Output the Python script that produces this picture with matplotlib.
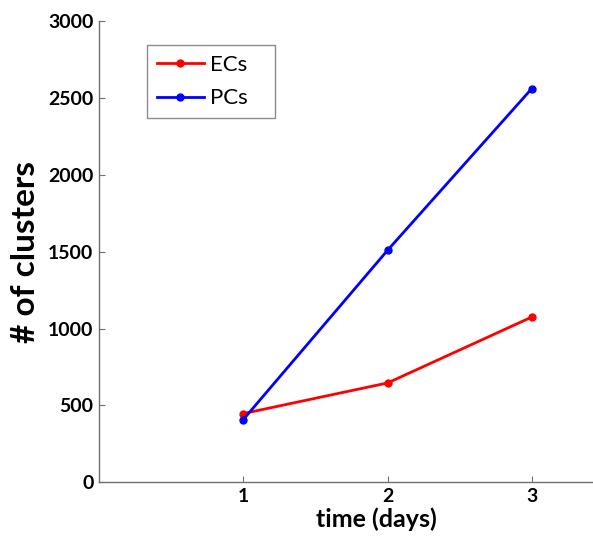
import matplotlib
matplotlib.use('Agg')
import matplotlib.pyplot as plt

# data
days = [1, 2, 3]
ecs = [447, 646, 1075]
pcs = [408, 1509, 2561]
y_ticks = [0, 500, 1000, 1500, 2000, 2500, 3000]
x_ticks = [1, 2, 3]

plt.rcParams['font.family'] = ['Lato', 'DejaVu Sans']
axis_gray = '#707070'

fig = plt.figure(figsize=(5.93, 5.37), dpi=100)
ax = fig.add_axes([99 / 593, 54.7 / 537, 505 / 593, 461.3 / 537])

ax.plot(days, ecs, color='#ff0000', lw=2.0, marker='o', ms=5, label='ECs')
ax.plot(days, pcs, color='#0000ff', lw=2.0, marker='o', ms=5, label='PCs')

ax.set_xlim(0, 3.5)
ax.set_ylim(0, 3000)
ax.set_xticks(x_ticks)
ax.set_yticks(y_ticks)

for s in ['top', 'right']:
    ax.spines[s].set_visible(False)
for s in ['left', 'bottom']:
    ax.spines[s].set_color(axis_gray)
    ax.spines[s].set_linewidth(1.0)

ax.tick_params(direction='in', length=4, color=axis_gray, labelsize=14, pad=4)
for lab in ax.get_xticklabels() + ax.get_yticklabels():
    lab.set_fontweight('bold')

ax.set_xlabel('time (days)', fontsize=18, fontweight='bold', labelpad=2)
ax.xaxis.set_label_coords(0.55, -0.055)
ax.set_ylabel('# of clusters', fontsize=24, fontweight='bold', labelpad=6)

# legend box stretched to the width seen in the reference
leg = ax.legend(loc='upper left', bbox_to_anchor=(0.095, 0.7, 0.2535, 0.248),
                mode='expand', fontsize=16,
                frameon=True, fancybox=False, edgecolor=axis_gray,
                handlelength=2.1, handletextpad=0.3, borderpad=0.45,
                labelspacing=0.6, borderaxespad=0)
leg.get_frame().set_linewidth(1.0)

fig.savefig('out.png', dpi=100)
